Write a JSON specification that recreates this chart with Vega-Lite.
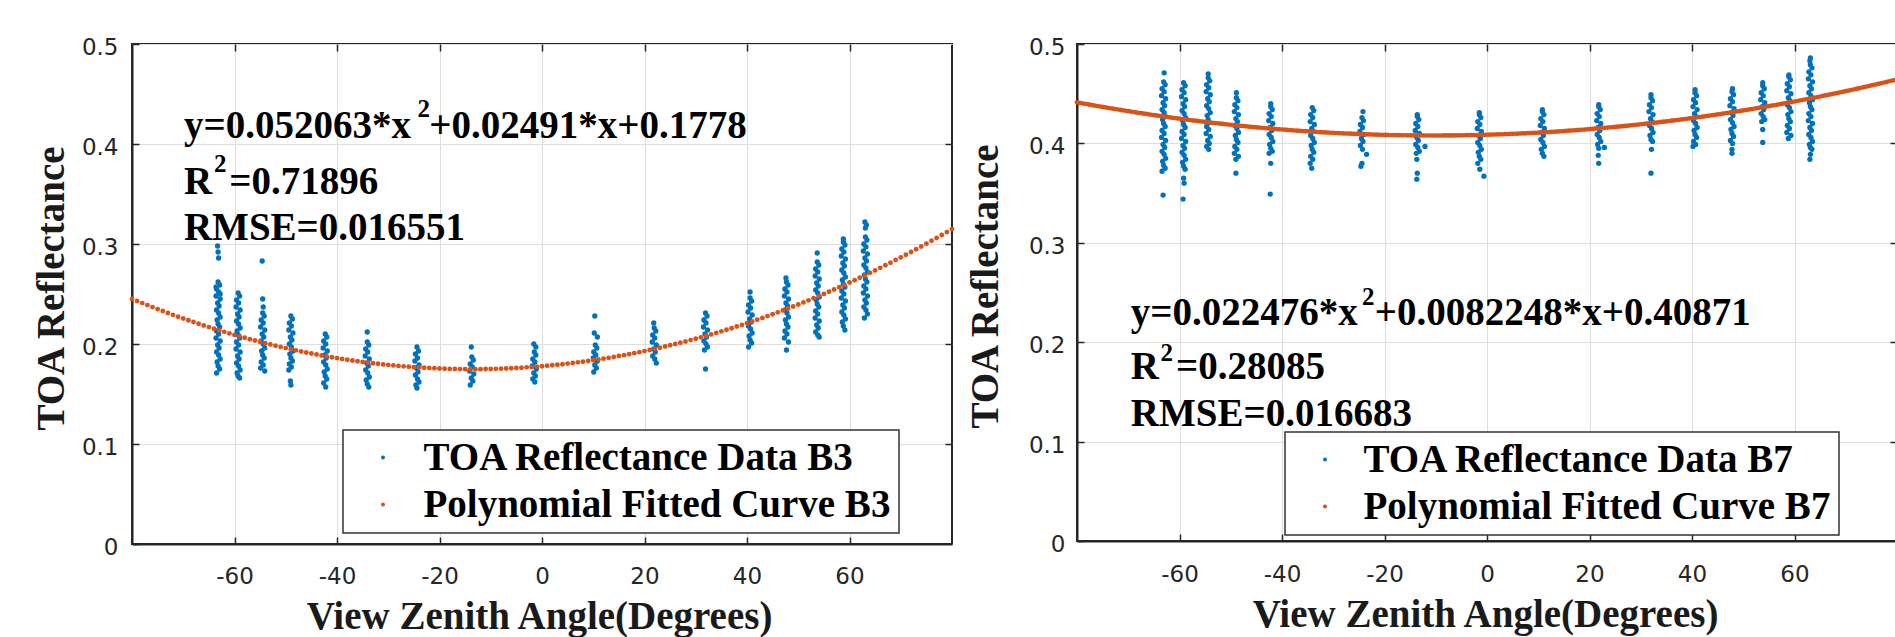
{
"$schema": "https://vega.github.io/schema/vega-lite/v6.json",
"autosize": {"type": "none"},
"padding": {"left": 132, "top": 44, "right": 1763, "bottom": 593},
"background": "white",
"datasets": {
"b3": [
{"a":-63.3,"r":0.298},{"a":-63.2,"r":0.292},{"a":-63.1,"r":0.286},
{"a":-63.2,"r":0.262},{"a":-62.9,"r":0.259},{"a":-63.5,"r":0.255},{"a":-63.1,"r":0.252},{"a":-63.6,"r":0.248},{"a":-62.8,"r":0.245},{"a":-63.3,"r":0.241},{"a":-63.0,"r":0.238},{"a":-63.5,"r":0.234},{"a":-63.1,"r":0.231},{"a":-62.8,"r":0.227},{"a":-63.4,"r":0.224},{"a":-63.2,"r":0.220},{"a":-62.9,"r":0.217},{"a":-63.5,"r":0.213},{"a":-63.1,"r":0.210},{"a":-63.6,"r":0.206},{"a":-62.8,"r":0.203},{"a":-63.3,"r":0.199},{"a":-63.0,"r":0.196},{"a":-63.5,"r":0.192},{"a":-63.1,"r":0.189},{"a":-62.8,"r":0.185},{"a":-63.4,"r":0.182},{"a":-63.2,"r":0.178},{"a":-62.9,"r":0.175},{"a":-63.5,"r":0.171},{"a":-63.6,"r":0.257},{"a":-62.8,"r":0.250},
{"a":-59.3,"r":0.251},{"a":-59.0,"r":0.248},{"a":-59.6,"r":0.244},{"a":-59.2,"r":0.241},{"a":-59.7,"r":0.237},{"a":-58.9,"r":0.234},{"a":-59.4,"r":0.230},{"a":-59.1,"r":0.227},{"a":-59.6,"r":0.223},{"a":-59.2,"r":0.220},{"a":-58.9,"r":0.216},{"a":-59.5,"r":0.213},{"a":-59.3,"r":0.209},{"a":-59.0,"r":0.206},{"a":-59.6,"r":0.202},{"a":-59.2,"r":0.199},{"a":-59.7,"r":0.195},{"a":-58.9,"r":0.192},{"a":-59.4,"r":0.188},{"a":-59.1,"r":0.185},{"a":-59.6,"r":0.181},{"a":-59.2,"r":0.178},{"a":-58.9,"r":0.174},{"a":-59.5,"r":0.171},{"a":-59.3,"r":0.168},{"a":-59.0,"r":0.166},
{"a":-54.6,"r":0.283},{"a":-54.5,"r":0.245},{"a":-54.4,"r":0.237},
{"a":-54.5,"r":0.231},{"a":-54.2,"r":0.228},{"a":-54.8,"r":0.224},{"a":-54.4,"r":0.221},{"a":-54.9,"r":0.217},{"a":-54.1,"r":0.214},{"a":-54.6,"r":0.210},{"a":-54.3,"r":0.207},{"a":-54.8,"r":0.203},{"a":-54.4,"r":0.200},{"a":-54.1,"r":0.196},{"a":-54.7,"r":0.193},{"a":-54.5,"r":0.189},{"a":-54.2,"r":0.186},{"a":-54.8,"r":0.182},{"a":-54.4,"r":0.179},{"a":-54.9,"r":0.176},{"a":-54.1,"r":0.173},
{"a":-49.0,"r":0.228},{"a":-48.7,"r":0.225},{"a":-49.3,"r":0.221},{"a":-48.9,"r":0.218},{"a":-49.4,"r":0.214},{"a":-48.6,"r":0.211},{"a":-49.1,"r":0.207},{"a":-48.8,"r":0.204},{"a":-49.3,"r":0.200},{"a":-48.9,"r":0.197},{"a":-48.6,"r":0.193},{"a":-49.2,"r":0.190},{"a":-49.0,"r":0.186},{"a":-48.7,"r":0.183},{"a":-49.3,"r":0.180},{"a":-48.9,"r":0.177},{"a":-49.4,"r":0.174},{"a":-49.1,"r":0.163},{"a":-49.0,"r":0.159},
{"a":-42.3,"r":0.210},{"a":-42.0,"r":0.207},{"a":-42.6,"r":0.203},{"a":-42.2,"r":0.200},{"a":-42.7,"r":0.196},{"a":-41.9,"r":0.193},{"a":-42.4,"r":0.189},{"a":-42.1,"r":0.186},{"a":-42.6,"r":0.182},{"a":-42.2,"r":0.179},{"a":-41.9,"r":0.175},{"a":-42.5,"r":0.172},{"a":-42.3,"r":0.168},{"a":-42.0,"r":0.165},{"a":-42.6,"r":0.161},{"a":-42.2,"r":0.157},
{"a":-34.1,"r":0.212},
{"a":-34.1,"r":0.202},{"a":-33.8,"r":0.199},{"a":-34.4,"r":0.195},{"a":-34.0,"r":0.192},{"a":-34.5,"r":0.188},{"a":-33.7,"r":0.185},{"a":-34.2,"r":0.181},{"a":-33.9,"r":0.178},{"a":-34.4,"r":0.174},{"a":-34.0,"r":0.171},{"a":-33.7,"r":0.167},{"a":-34.3,"r":0.164},{"a":-34.1,"r":0.160},{"a":-33.8,"r":0.157},
{"a":-24.4,"r":0.197},{"a":-24.1,"r":0.193},{"a":-24.7,"r":0.190},{"a":-24.3,"r":0.186},{"a":-24.8,"r":0.183},{"a":-24.0,"r":0.179},{"a":-24.5,"r":0.176},{"a":-24.2,"r":0.172},{"a":-24.7,"r":0.169},{"a":-24.3,"r":0.165},{"a":-24.0,"r":0.162},{"a":-24.6,"r":0.159},{"a":-24.4,"r":0.156},
{"a":-13.8,"r":0.197},
{"a":-13.7,"r":0.187},{"a":-13.4,"r":0.184},{"a":-14.0,"r":0.180},{"a":-13.6,"r":0.177},{"a":-14.1,"r":0.173},{"a":-13.3,"r":0.170},{"a":-13.8,"r":0.166},{"a":-13.5,"r":0.163},{"a":-14.0,"r":0.159},
{"a":-1.6,"r":0.200},{"a":-1.2,"r":0.197},
{"a":-1.5,"r":0.192},{"a":-1.2,"r":0.189},{"a":-1.8,"r":0.185},{"a":-1.4,"r":0.182},{"a":-1.9,"r":0.178},{"a":-1.1,"r":0.175},{"a":-1.6,"r":0.171},{"a":-1.3,"r":0.168},{"a":-1.8,"r":0.165},{"a":-1.4,"r":0.162},
{"a":10.3,"r":0.228},{"a":10.2,"r":0.211},{"a":10.8,"r":0.207},
{"a":10.4,"r":0.199},{"a":10.7,"r":0.196},{"a":10.1,"r":0.192},{"a":10.5,"r":0.189},{"a":10.0,"r":0.186},{"a":10.8,"r":0.183},{"a":10.3,"r":0.179},{"a":10.6,"r":0.176},{"a":10.1,"r":0.172},
{"a":21.8,"r":0.221},
{"a":21.9,"r":0.216},{"a":22.2,"r":0.213},{"a":21.6,"r":0.209},{"a":22.0,"r":0.206},{"a":21.5,"r":0.202},{"a":22.3,"r":0.199},{"a":21.8,"r":0.195},{"a":22.1,"r":0.192},{"a":21.6,"r":0.188},{"a":22.0,"r":0.185},{"a":22.3,"r":0.181},
{"a":31.9,"r":0.231},{"a":32.2,"r":0.228},{"a":31.6,"r":0.224},{"a":32.0,"r":0.221},{"a":31.5,"r":0.217},{"a":32.3,"r":0.214},{"a":31.8,"r":0.210},{"a":32.1,"r":0.207},{"a":31.6,"r":0.203},{"a":32.0,"r":0.200},{"a":32.3,"r":0.197},{"a":31.7,"r":0.194},{"a":31.9,"r":0.175},
{"a":40.6,"r":0.252},
{"a":40.6,"r":0.246},{"a":40.9,"r":0.243},{"a":40.3,"r":0.239},{"a":40.7,"r":0.236},{"a":40.2,"r":0.232},{"a":41.0,"r":0.229},{"a":40.5,"r":0.225},{"a":40.8,"r":0.222},{"a":40.3,"r":0.218},{"a":40.7,"r":0.215},{"a":41.0,"r":0.211},{"a":40.4,"r":0.208},{"a":40.6,"r":0.204},{"a":40.9,"r":0.201},{"a":40.3,"r":0.197},
{"a":47.6,"r":0.266},
{"a":47.7,"r":0.262},{"a":48.0,"r":0.259},{"a":47.4,"r":0.255},{"a":47.8,"r":0.252},{"a":47.3,"r":0.248},{"a":48.1,"r":0.245},{"a":47.6,"r":0.241},{"a":47.9,"r":0.238},{"a":47.4,"r":0.234},{"a":47.8,"r":0.231},{"a":48.1,"r":0.227},{"a":47.5,"r":0.224},{"a":47.7,"r":0.220},{"a":48.0,"r":0.217},{"a":47.4,"r":0.213},{"a":47.8,"r":0.210},{"a":47.3,"r":0.206},{"a":48.1,"r":0.202},{"a":47.7,"r":0.194},
{"a":53.7,"r":0.291},
{"a":53.7,"r":0.282},{"a":54.0,"r":0.279},{"a":53.4,"r":0.275},{"a":53.8,"r":0.272},{"a":53.3,"r":0.268},{"a":54.1,"r":0.265},{"a":53.6,"r":0.261},{"a":53.9,"r":0.258},{"a":53.4,"r":0.254},{"a":53.8,"r":0.251},{"a":54.1,"r":0.247},{"a":53.5,"r":0.244},{"a":53.7,"r":0.240},{"a":54.0,"r":0.237},{"a":53.4,"r":0.233},{"a":53.8,"r":0.230},{"a":53.3,"r":0.226},{"a":54.1,"r":0.223},{"a":53.6,"r":0.219},{"a":53.9,"r":0.216},{"a":53.4,"r":0.212},{"a":53.8,"r":0.209},{"a":54.1,"r":0.207},
{"a":58.8,"r":0.305},
{"a":58.8,"r":0.302},{"a":59.1,"r":0.299},{"a":58.5,"r":0.295},{"a":58.9,"r":0.292},{"a":58.4,"r":0.288},{"a":59.2,"r":0.285},{"a":58.7,"r":0.281},{"a":59.0,"r":0.278},{"a":58.5,"r":0.274},{"a":58.9,"r":0.271},{"a":59.2,"r":0.267},{"a":58.6,"r":0.264},{"a":58.8,"r":0.260},{"a":59.1,"r":0.257},{"a":58.5,"r":0.253},{"a":58.9,"r":0.250},{"a":58.4,"r":0.246},{"a":59.2,"r":0.243},{"a":58.7,"r":0.239},{"a":59.0,"r":0.236},{"a":58.5,"r":0.232},{"a":58.9,"r":0.229},{"a":59.2,"r":0.225},{"a":58.6,"r":0.222},{"a":58.8,"r":0.218},{"a":59.1,"r":0.214},
{"a":63.0,"r":0.322},{"a":63.3,"r":0.319},{"a":63.1,"r":0.316},
{"a":63.1,"r":0.307},{"a":63.4,"r":0.304},{"a":62.8,"r":0.300},{"a":63.2,"r":0.297},{"a":62.7,"r":0.293},{"a":63.5,"r":0.290},{"a":63.0,"r":0.286},{"a":63.3,"r":0.283},{"a":62.8,"r":0.279},{"a":63.2,"r":0.276},{"a":63.5,"r":0.272},{"a":62.9,"r":0.269},{"a":63.1,"r":0.265},{"a":63.4,"r":0.262},{"a":62.8,"r":0.258},{"a":63.2,"r":0.255},{"a":62.7,"r":0.251},{"a":63.5,"r":0.248},{"a":63.0,"r":0.244},{"a":63.3,"r":0.241},{"a":62.8,"r":0.237},{"a":63.2,"r":0.234},{"a":63.5,"r":0.230},{"a":62.9,"r":0.226}
],
"c3": [
{"a":-80,"r":0.24509},{"a":-79,"r":0.24299},{"a":-78,"r":0.24092},{"a":-77,"r":0.23888},{"a":-76,"r":0.23688},{"a":-75,"r":0.2349},{"a":-74,"r":0.23296},{"a":-73,"r":0.23105},{"a":-72,"r":0.22917},{"a":-71,"r":0.22732},{"a":-70,"r":0.22551},{"a":-69,"r":0.22372},{"a":-68,"r":0.22197},{"a":-67,"r":0.22025},{"a":-66,"r":0.21856},{"a":-65,"r":0.21691},{"a":-64,"r":0.21529},{"a":-63,"r":0.21369},{"a":-62,"r":0.21213},{"a":-61,"r":0.21061},{"a":-60,"r":0.20911},{"a":-59,"r":0.20765},{"a":-58,"r":0.20621},{"a":-57,"r":0.20481},{"a":-56,"r":0.20345},{"a":-55,"r":0.20211},{"a":-54,"r":0.2008},{"a":-53,"r":0.19953},{"a":-52,"r":0.19829},{"a":-51,"r":0.19708},{"a":-50,"r":0.19591},{"a":-49,"r":0.19476},{"a":-48,"r":0.19365},{"a":-47,"r":0.19257},{"a":-46,"r":0.19152},{"a":-45,"r":0.1905},{"a":-44,"r":0.18952},{"a":-43,"r":0.18857},{"a":-42,"r":0.18765},{"a":-41,"r":0.18676},{"a":-40,"r":0.1859},{"a":-39,"r":0.18507},{"a":-38,"r":0.18428},{"a":-37,"r":0.18352},{"a":-36,"r":0.18279},{"a":-35,"r":0.18209},{"a":-34,"r":0.18143},{"a":-33,"r":0.18079},{"a":-32,"r":0.18019},{"a":-31,"r":0.17962},{"a":-30,"r":0.17908},{"a":-29,"r":0.17858},{"a":-28,"r":0.1781},{"a":-27,"r":0.17766},{"a":-26,"r":0.17725},{"a":-25,"r":0.17687},{"a":-24,"r":0.17653},{"a":-23,"r":0.17621},{"a":-22,"r":0.17593},{"a":-21,"r":0.17568},{"a":-20,"r":0.17546},{"a":-19,"r":0.17528},{"a":-18,"r":0.17512},{"a":-17,"r":0.175},{"a":-16,"r":0.17491},{"a":-15,"r":0.17485},{"a":-14,"r":0.17482},{"a":-13,"r":0.17483},{"a":-12,"r":0.17486},{"a":-11,"r":0.17493},{"a":-10,"r":0.17503},{"a":-9,"r":0.17517},{"a":-8,"r":0.17533},{"a":-7,"r":0.17553},{"a":-6,"r":0.17576},{"a":-5,"r":0.17602},{"a":-4,"r":0.17631},{"a":-3,"r":0.17663},{"a":-2,"r":0.17699},{"a":-1,"r":0.17738},{"a":0,"r":0.1778},
{"a":1,"r":0.17825},{"a":2,"r":0.17874},{"a":3,"r":0.17925},{"a":4,"r":0.1798},{"a":5,"r":0.18038},{"a":6,"r":0.18099},{"a":7,"r":0.18164},{"a":8,"r":0.18231},{"a":9,"r":0.18302},{"a":10,"r":0.18376},{"a":11,"r":0.18453},{"a":12,"r":0.18533},{"a":13,"r":0.18617},{"a":14,"r":0.18704},{"a":15,"r":0.18794},{"a":16,"r":0.18887},{"a":17,"r":0.18983},{"a":18,"r":0.19083},{"a":19,"r":0.19185},{"a":20,"r":0.19291},{"a":21,"r":0.194},{"a":22,"r":0.19513},{"a":23,"r":0.19628},{"a":24,"r":0.19747},{"a":25,"r":0.19869},{"a":26,"r":0.19994},{"a":27,"r":0.20122},{"a":28,"r":0.20253},{"a":29,"r":0.20388},{"a":30,"r":0.20526},{"a":31,"r":0.20667},{"a":32,"r":0.20811},{"a":33,"r":0.20959},{"a":34,"r":0.21109},{"a":35,"r":0.21263},{"a":36,"r":0.2142},{"a":37,"r":0.2158},{"a":38,"r":0.21744},{"a":39,"r":0.2191},{"a":40,"r":0.2208},{"a":41,"r":0.22253},{"a":42,"r":0.22429},{"a":43,"r":0.22608},{"a":44,"r":0.22791},{"a":45,"r":0.22977},{"a":46,"r":0.23166},{"a":47,"r":0.23358},{"a":48,"r":0.23553},{"a":49,"r":0.23752},{"a":50,"r":0.23953},{"a":51,"r":0.24158},{"a":52,"r":0.24366},{"a":53,"r":0.24578},{"a":54,"r":0.24792},{"a":55,"r":0.2501},{"a":56,"r":0.25231},{"a":57,"r":0.25455},{"a":58,"r":0.25682},{"a":59,"r":0.25912},{"a":60,"r":0.26146},{"a":61,"r":0.26383},{"a":62,"r":0.26623},{"a":63,"r":0.26866},{"a":64,"r":0.27113},{"a":65,"r":0.27362},{"a":66,"r":0.27615},{"a":67,"r":0.27871},{"a":68,"r":0.2813},{"a":69,"r":0.28393},{"a":70,"r":0.28658},{"a":71,"r":0.28927},{"a":72,"r":0.29199},{"a":73,"r":0.29474},{"a":74,"r":0.29752},{"a":75,"r":0.30034},{"a":76,"r":0.30319},{"a":77,"r":0.30607},{"a":78,"r":0.30898},{"a":79,"r":0.31192},{"a":80,"r":0.3149}
],
"b7": [
{"a":-63.0,"r":0.471},{"a":-63.2,"r":0.348},
{"a":-63.1,"r":0.462},{"a":-62.8,"r":0.459},{"a":-63.4,"r":0.455},{"a":-63.0,"r":0.452},{"a":-63.5,"r":0.448},{"a":-62.7,"r":0.445},{"a":-63.2,"r":0.441},{"a":-62.9,"r":0.438},{"a":-63.4,"r":0.434},{"a":-63.0,"r":0.431},{"a":-62.7,"r":0.427},{"a":-63.3,"r":0.424},{"a":-63.1,"r":0.420},{"a":-62.8,"r":0.417},{"a":-63.4,"r":0.413},{"a":-63.0,"r":0.410},{"a":-63.5,"r":0.406},{"a":-62.7,"r":0.403},{"a":-63.2,"r":0.399},{"a":-62.9,"r":0.396},{"a":-63.4,"r":0.392},{"a":-63.0,"r":0.389},{"a":-62.7,"r":0.385},{"a":-63.3,"r":0.382},{"a":-63.1,"r":0.378},{"a":-62.8,"r":0.375},{"a":-63.4,"r":0.372},
{"a":-59.2,"r":0.461},{"a":-58.9,"r":0.458},{"a":-59.5,"r":0.454},{"a":-59.1,"r":0.451},{"a":-59.6,"r":0.447},{"a":-58.8,"r":0.444},{"a":-59.3,"r":0.440},{"a":-59.0,"r":0.437},{"a":-59.5,"r":0.433},{"a":-59.1,"r":0.430},{"a":-58.8,"r":0.426},{"a":-59.4,"r":0.423},{"a":-59.2,"r":0.419},{"a":-58.9,"r":0.416},{"a":-59.5,"r":0.412},{"a":-59.1,"r":0.409},{"a":-59.6,"r":0.405},{"a":-58.8,"r":0.402},{"a":-59.3,"r":0.398},{"a":-59.0,"r":0.395},{"a":-59.5,"r":0.391},{"a":-59.1,"r":0.388},{"a":-58.8,"r":0.384},{"a":-59.4,"r":0.381},{"a":-59.2,"r":0.377},{"a":-58.9,"r":0.374},{"a":-59.2,"r":0.365},{"a":-59.1,"r":0.360},{"a":-59.3,"r":0.344},
{"a":-54.4,"r":0.470},
{"a":-54.4,"r":0.466},{"a":-54.1,"r":0.463},{"a":-54.7,"r":0.459},{"a":-54.3,"r":0.456},{"a":-54.8,"r":0.452},{"a":-54.0,"r":0.449},{"a":-54.5,"r":0.445},{"a":-54.2,"r":0.442},{"a":-54.7,"r":0.438},{"a":-54.3,"r":0.435},{"a":-54.0,"r":0.431},{"a":-54.6,"r":0.428},{"a":-54.4,"r":0.424},{"a":-54.1,"r":0.421},{"a":-54.7,"r":0.417},{"a":-54.3,"r":0.414},{"a":-54.8,"r":0.410},{"a":-54.0,"r":0.407},{"a":-54.5,"r":0.403},{"a":-54.2,"r":0.400},{"a":-54.7,"r":0.397},{"a":-54.3,"r":0.394},
{"a":-48.9,"r":0.451},{"a":-49.0,"r":0.370},
{"a":-48.9,"r":0.446},{"a":-48.6,"r":0.443},{"a":-49.2,"r":0.439},{"a":-48.8,"r":0.436},{"a":-49.3,"r":0.432},{"a":-48.5,"r":0.429},{"a":-49.0,"r":0.425},{"a":-48.7,"r":0.422},{"a":-49.2,"r":0.418},{"a":-48.8,"r":0.415},{"a":-48.5,"r":0.411},{"a":-49.1,"r":0.408},{"a":-48.9,"r":0.404},{"a":-48.6,"r":0.401},{"a":-49.2,"r":0.397},{"a":-48.8,"r":0.394},{"a":-49.3,"r":0.390},{"a":-48.5,"r":0.387},{"a":-49.0,"r":0.384},
{"a":-42.2,"r":0.440},{"a":-42.2,"r":0.380},{"a":-42.3,"r":0.349},
{"a":-42.2,"r":0.437},{"a":-41.9,"r":0.434},{"a":-42.5,"r":0.430},{"a":-42.1,"r":0.427},{"a":-42.6,"r":0.423},{"a":-41.8,"r":0.420},{"a":-42.3,"r":0.416},{"a":-42.0,"r":0.413},{"a":-42.5,"r":0.409},{"a":-42.1,"r":0.406},{"a":-41.8,"r":0.402},{"a":-42.4,"r":0.399},{"a":-42.2,"r":0.395},{"a":-41.9,"r":0.392},{"a":-42.5,"r":0.390},
{"a":-34.1,"r":0.436},{"a":-33.8,"r":0.433},{"a":-34.4,"r":0.429},{"a":-34.0,"r":0.426},{"a":-34.5,"r":0.422},{"a":-33.7,"r":0.419},{"a":-34.2,"r":0.415},{"a":-33.9,"r":0.412},{"a":-34.4,"r":0.408},{"a":-34.0,"r":0.405},{"a":-33.7,"r":0.401},{"a":-34.3,"r":0.398},{"a":-34.1,"r":0.394},{"a":-33.8,"r":0.391},{"a":-34.4,"r":0.387},{"a":-34.0,"r":0.384},{"a":-34.5,"r":0.380},{"a":-34.2,"r":0.375},
{"a":-24.2,"r":0.432},
{"a":-24.4,"r":0.426},{"a":-24.1,"r":0.423},{"a":-24.7,"r":0.419},{"a":-24.3,"r":0.416},{"a":-24.8,"r":0.412},{"a":-24.0,"r":0.409},{"a":-24.5,"r":0.405},{"a":-24.2,"r":0.402},{"a":-24.7,"r":0.398},{"a":-24.3,"r":0.394},{"a":-23.5,"r":0.389},{"a":-24.4,"r":0.380},{"a":-24.6,"r":0.377},
{"a":-13.6,"r":0.429},
{"a":-13.6,"r":0.427},{"a":-13.3,"r":0.424},{"a":-13.9,"r":0.420},{"a":-13.5,"r":0.417},{"a":-14.0,"r":0.413},{"a":-13.2,"r":0.410},{"a":-13.7,"r":0.406},{"a":-13.4,"r":0.403},{"a":-13.9,"r":0.399},{"a":-13.5,"r":0.396},{"a":-13.2,"r":0.392},{"a":-13.8,"r":0.390},{"a":-12.1,"r":0.397},{"a":-13.7,"r":0.384},{"a":-13.6,"r":0.370},{"a":-13.7,"r":0.364},
{"a":-1.5,"r":0.431},
{"a":-1.5,"r":0.429},{"a":-1.2,"r":0.426},{"a":-1.8,"r":0.422},{"a":-1.4,"r":0.419},{"a":-1.9,"r":0.415},{"a":-1.1,"r":0.412},{"a":-1.6,"r":0.408},{"a":-1.3,"r":0.405},{"a":-1.8,"r":0.401},{"a":-1.4,"r":0.398},{"a":-1.1,"r":0.394},{"a":-1.7,"r":0.391},{"a":-1.5,"r":0.387},{"a":-1.2,"r":0.384},{"a":-1.8,"r":0.380},{"a":-1.4,"r":0.374},{"a":-0.6,"r":0.367},
{"a":10.8,"r":0.434},
{"a":10.8,"r":0.432},{"a":11.1,"r":0.429},{"a":10.5,"r":0.425},{"a":10.9,"r":0.422},{"a":10.4,"r":0.418},{"a":11.2,"r":0.415},{"a":10.7,"r":0.411},{"a":11.0,"r":0.408},{"a":10.5,"r":0.404},{"a":10.9,"r":0.401},{"a":11.2,"r":0.397},{"a":10.6,"r":0.394},{"a":10.8,"r":0.390},{"a":11.1,"r":0.387},
{"a":21.8,"r":0.439},
{"a":21.8,"r":0.437},{"a":22.1,"r":0.434},{"a":21.5,"r":0.430},{"a":21.9,"r":0.427},{"a":21.4,"r":0.423},{"a":22.2,"r":0.420},{"a":21.7,"r":0.416},{"a":22.0,"r":0.413},{"a":21.5,"r":0.409},{"a":21.9,"r":0.406},{"a":22.2,"r":0.402},{"a":21.6,"r":0.399},{"a":21.8,"r":0.395},{"a":22.9,"r":0.396},{"a":21.7,"r":0.388},{"a":21.8,"r":0.380},
{"a":32.0,"r":0.449},
{"a":32.0,"r":0.446},{"a":32.3,"r":0.443},{"a":31.7,"r":0.439},{"a":32.1,"r":0.436},{"a":31.6,"r":0.432},{"a":32.4,"r":0.429},{"a":31.9,"r":0.425},{"a":32.2,"r":0.422},{"a":31.7,"r":0.418},{"a":32.1,"r":0.415},{"a":32.4,"r":0.411},{"a":31.8,"r":0.408},{"a":32.0,"r":0.404},{"a":32.3,"r":0.402},{"a":32.1,"r":0.394},{"a":32.0,"r":0.370},
{"a":40.6,"r":0.454},
{"a":40.6,"r":0.451},{"a":40.9,"r":0.448},{"a":40.3,"r":0.444},{"a":40.7,"r":0.441},{"a":40.2,"r":0.437},{"a":41.0,"r":0.434},{"a":40.5,"r":0.430},{"a":40.8,"r":0.427},{"a":40.3,"r":0.423},{"a":40.7,"r":0.420},{"a":41.0,"r":0.416},{"a":40.4,"r":0.413},{"a":40.6,"r":0.409},{"a":40.9,"r":0.406},{"a":40.3,"r":0.402},{"a":40.7,"r":0.399},{"a":40.2,"r":0.397},
{"a":47.9,"r":0.455},
{"a":47.8,"r":0.452},{"a":48.1,"r":0.449},{"a":47.5,"r":0.445},{"a":47.9,"r":0.442},{"a":47.4,"r":0.438},{"a":48.2,"r":0.435},{"a":47.7,"r":0.431},{"a":48.0,"r":0.428},{"a":47.5,"r":0.424},{"a":47.9,"r":0.421},{"a":48.2,"r":0.417},{"a":47.6,"r":0.414},{"a":47.8,"r":0.410},{"a":48.1,"r":0.407},{"a":47.5,"r":0.403},{"a":47.9,"r":0.400},{"a":47.8,"r":0.394},{"a":47.8,"r":0.390},
{"a":53.8,"r":0.461},
{"a":53.8,"r":0.458},{"a":54.1,"r":0.455},{"a":53.5,"r":0.451},{"a":53.9,"r":0.448},{"a":53.4,"r":0.444},{"a":54.2,"r":0.441},{"a":53.7,"r":0.437},{"a":54.0,"r":0.434},{"a":53.5,"r":0.430},{"a":53.9,"r":0.427},{"a":54.2,"r":0.424},{"a":53.6,"r":0.422},{"a":53.8,"r":0.414},{"a":53.8,"r":0.401},
{"a":58.9,"r":0.469},
{"a":58.9,"r":0.467},{"a":59.2,"r":0.464},{"a":58.6,"r":0.460},{"a":59.0,"r":0.457},{"a":58.5,"r":0.453},{"a":59.3,"r":0.450},{"a":58.8,"r":0.446},{"a":59.1,"r":0.443},{"a":58.6,"r":0.439},{"a":59.0,"r":0.436},{"a":59.3,"r":0.432},{"a":58.7,"r":0.429},{"a":58.9,"r":0.425},{"a":59.2,"r":0.422},{"a":58.6,"r":0.418},{"a":59.0,"r":0.415},{"a":58.5,"r":0.411},{"a":59.3,"r":0.408},{"a":58.8,"r":0.405},
{"a":63.1,"r":0.486},{"a":63.0,"r":0.483},
{"a":63.1,"r":0.479},{"a":63.4,"r":0.476},{"a":62.8,"r":0.472},{"a":63.2,"r":0.469},{"a":62.7,"r":0.465},{"a":63.5,"r":0.462},{"a":63.0,"r":0.458},{"a":63.3,"r":0.455},{"a":62.8,"r":0.451},{"a":63.2,"r":0.448},{"a":63.5,"r":0.444},{"a":62.9,"r":0.441},{"a":63.1,"r":0.437},{"a":63.4,"r":0.434},{"a":62.8,"r":0.430},{"a":63.2,"r":0.427},{"a":62.7,"r":0.423},{"a":63.5,"r":0.420},{"a":63.0,"r":0.416},{"a":63.3,"r":0.413},{"a":62.8,"r":0.409},{"a":63.2,"r":0.406},{"a":63.5,"r":0.402},{"a":62.9,"r":0.399},{"a":63.1,"r":0.396},{"a":63.4,"r":0.394},{"a":63.1,"r":0.389},{"a":63.0,"r":0.384}
],
"c7": [
{"a":-80,"r":0.44131},{"a":-79.5,"r":0.44083},{"a":-79,"r":0.44035},{"a":-78.5,"r":0.43989},{"a":-78,"r":0.43942},{"a":-77.5,"r":0.43895},{"a":-77,"r":0.43849},{"a":-76.5,"r":0.43803},{"a":-76,"r":0.43758},{"a":-75.5,"r":0.43713},{"a":-75,"r":0.43668},{"a":-74.5,"r":0.43624},{"a":-74,"r":0.4358},{"a":-73.5,"r":0.43536},{"a":-73,"r":0.43493},{"a":-72.5,"r":0.4345},{"a":-72,"r":0.43408},{"a":-71.5,"r":0.43365},{"a":-71,"r":0.43323},{"a":-70.5,"r":0.43282},{"a":-70,"r":0.43241},{"a":-69.5,"r":0.432},{"a":-69,"r":0.43159},{"a":-68.5,"r":0.43119},{"a":-68,"r":0.43079},{"a":-67.5,"r":0.43039},{"a":-67,"r":0.43},{"a":-66.5,"r":0.42961},{"a":-66,"r":0.42923},{"a":-65.5,"r":0.42885},{"a":-65,"r":0.42847},{"a":-64.5,"r":0.4281},{"a":-64,"r":0.42773},{"a":-63.5,"r":0.42736},{"a":-63,"r":0.427},{"a":-62.5,"r":0.42664},{"a":-62,"r":0.42628},{"a":-61.5,"r":0.42592},{"a":-61,"r":0.42557},{"a":-60.5,"r":0.42522},{"a":-60,"r":0.42488},{"a":-59.5,"r":0.42454},{"a":-59,"r":0.42421},{"a":-58.5,"r":0.42388},{"a":-58,"r":0.42355},{"a":-57.5,"r":0.42322},{"a":-57,"r":0.4229},{"a":-56.5,"r":0.42258},{"a":-56,"r":0.42226},{"a":-55.5,"r":0.42195},{"a":-55,"r":0.42164},{"a":-54.5,"r":0.42133},{"a":-54,"r":0.42103},{"a":-53.5,"r":0.42073},{"a":-53,"r":0.42044},{"a":-52.5,"r":0.42015},{"a":-52,"r":0.41986},{"a":-51.5,"r":0.41957},{"a":-51,"r":0.41929},{"a":-50.5,"r":0.41901},{"a":-50,"r":0.41874},{"a":-49.5,"r":0.41847},{"a":-49,"r":0.4182},{"a":-48.5,"r":0.41794},{"a":-48,"r":0.41768},{"a":-47.5,"r":0.41742},{"a":-47,"r":0.41717},{"a":-46.5,"r":0.41692},{"a":-46,"r":0.41667},{"a":-45.5,"r":0.41643},{"a":-45,"r":0.41619},{"a":-44.5,"r":0.41595},{"a":-44,"r":0.41572},{"a":-43.5,"r":0.41549},{"a":-43,"r":0.41526},{"a":-42.5,"r":0.41504},{"a":-42,"r":0.41482},{"a":-41.5,"r":0.4146},{"a":-41,"r":0.41439},{"a":-40.5,"r":0.41418},{"a":-40,"r":0.41398},{"a":-39.5,"r":0.41378},{"a":-39,"r":0.41358},{"a":-38.5,"r":0.41338},{"a":-38,"r":0.41319},{"a":-37.5,"r":0.413},{"a":-37,"r":0.41282},{"a":-36.5,"r":0.41264},{"a":-36,"r":0.41246},{"a":-35.5,"r":0.41228},{"a":-35,"r":0.41211},{"a":-34.5,"r":0.41194},{"a":-34,"r":0.41178},{"a":-33.5,"r":0.41162},{"a":-33,"r":0.41146},{"a":-32.5,"r":0.41131},{"a":-32,"r":0.41116},{"a":-31.5,"r":0.41101},{"a":-31,"r":0.41087},{"a":-30.5,"r":0.41073},{"a":-30,"r":0.41059},{"a":-29.5,"r":0.41046},{"a":-29,"r":0.41033},{"a":-28.5,"r":0.4102},{"a":-28,"r":0.41008},{"a":-27.5,"r":0.40996},{"a":-27,"r":0.40985},{"a":-26.5,"r":0.40974},{"a":-26,"r":0.40963},{"a":-25.5,"r":0.40952},{"a":-25,"r":0.40942},{"a":-24.5,"r":0.40932},{"a":-24,"r":0.40922},{"a":-23.5,"r":0.40913},{"a":-23,"r":0.40904},{"a":-22.5,"r":0.40896},{"a":-22,"r":0.40888},{"a":-21.5,"r":0.4088},{"a":-21,"r":0.40873},{"a":-20.5,"r":0.40866},{"a":-20,"r":0.40859},{"a":-19.5,"r":0.40852},{"a":-19,"r":0.40846},{"a":-18.5,"r":0.4084},{"a":-18,"r":0.40835},{"a":-17.5,"r":0.4083},{"a":-17,"r":0.40825},{"a":-16.5,"r":0.40821},{"a":-16,"r":0.40817},{"a":-15.5,"r":0.40813},{"a":-15,"r":0.4081},{"a":-14.5,"r":0.40807},{"a":-14,"r":0.40804},{"a":-13.5,"r":0.40802},{"a":-13,"r":0.408},{"a":-12.5,"r":0.40798},{"a":-12,"r":0.40797},{"a":-11.5,"r":0.40796},{"a":-11,"r":0.40796},{"a":-10.5,"r":0.40796},{"a":-10,"r":0.40796},{"a":-9.5,"r":0.40796},{"a":-9,"r":0.40797},{"a":-8.5,"r":0.40798},{"a":-8,"r":0.408},{"a":-7.5,"r":0.40802},{"a":-7,"r":0.40804},{"a":-6.5,"r":0.40806},{"a":-6,"r":0.40809},{"a":-5.5,"r":0.40812},{"a":-5,"r":0.40816},{"a":-4.5,"r":0.4082},{"a":-4,"r":0.40824},{"a":-3.5,"r":0.40829},{"a":-3,"r":0.40834},{"a":-2.5,"r":0.40839},{"a":-2,"r":0.40845},{"a":-1.5,"r":0.40851},{"a":-1,"r":0.40857},{"a":-0.5,"r":0.40864},{"a":0,"r":0.40871},
{"a":0.5,"r":0.40878},{"a":1,"r":0.40886},{"a":1.5,"r":0.40894},{"a":2,"r":0.40903},{"a":2.5,"r":0.40911},{"a":3,"r":0.4092},{"a":3.5,"r":0.4093},{"a":4,"r":0.4094},{"a":4.5,"r":0.4095},{"a":5,"r":0.4096},{"a":5.5,"r":0.40971},{"a":6,"r":0.40982},{"a":6.5,"r":0.40994},{"a":7,"r":0.41006},{"a":7.5,"r":0.41018},{"a":8,"r":0.4103},{"a":8.5,"r":0.41043},{"a":9,"r":0.41056},{"a":9.5,"r":0.4107},{"a":10,"r":0.41084},{"a":10.5,"r":0.41098},{"a":11,"r":0.41113},{"a":11.5,"r":0.41128},{"a":12,"r":0.41143},{"a":12.5,"r":0.41159},{"a":13,"r":0.41175},{"a":13.5,"r":0.41191},{"a":14,"r":0.41208},{"a":14.5,"r":0.41225},{"a":15,"r":0.41242},{"a":15.5,"r":0.4126},{"a":16,"r":0.41278},{"a":16.5,"r":0.41296},{"a":17,"r":0.41315},{"a":17.5,"r":0.41334},{"a":18,"r":0.41354},{"a":18.5,"r":0.41374},{"a":19,"r":0.41394},{"a":19.5,"r":0.41414},{"a":20,"r":0.41435},{"a":20.5,"r":0.41456},{"a":21,"r":0.41478},{"a":21.5,"r":0.415},{"a":22,"r":0.41522},{"a":22.5,"r":0.41544},{"a":23,"r":0.41567},{"a":23.5,"r":0.4159},{"a":24,"r":0.41614},{"a":24.5,"r":0.41638},{"a":25,"r":0.41662},{"a":25.5,"r":0.41687},{"a":26,"r":0.41712},{"a":26.5,"r":0.41737},{"a":27,"r":0.41762},{"a":27.5,"r":0.41788},{"a":28,"r":0.41815},{"a":28.5,"r":0.41841},{"a":29,"r":0.41868},{"a":29.5,"r":0.41896},{"a":30,"r":0.41924},{"a":30.5,"r":0.41952},{"a":31,"r":0.4198},{"a":31.5,"r":0.42009},{"a":32,"r":0.42038},{"a":32.5,"r":0.42067},{"a":33,"r":0.42097},{"a":33.5,"r":0.42127},{"a":34,"r":0.42158},{"a":34.5,"r":0.42189},{"a":35,"r":0.4222},{"a":35.5,"r":0.42251},{"a":36,"r":0.42283},{"a":36.5,"r":0.42315},{"a":37,"r":0.42348},{"a":37.5,"r":0.42381},{"a":38,"r":0.42414},{"a":38.5,"r":0.42447},{"a":39,"r":0.42481},{"a":39.5,"r":0.42515},{"a":40,"r":0.4255},{"a":40.5,"r":0.42585},{"a":41,"r":0.4262},{"a":41.5,"r":0.42656},{"a":42,"r":0.42692},{"a":42.5,"r":0.42728},{"a":43,"r":0.42765},{"a":43.5,"r":0.42802},{"a":44,"r":0.42839},{"a":44.5,"r":0.42877},{"a":45,"r":0.42915},{"a":45.5,"r":0.42953},{"a":46,"r":0.42992},{"a":46.5,"r":0.43031},{"a":47,"r":0.43071},{"a":47.5,"r":0.43111},{"a":48,"r":0.43151},{"a":48.5,"r":0.43191},{"a":49,"r":0.43232},{"a":49.5,"r":0.43273},{"a":50,"r":0.43315},{"a":50.5,"r":0.43357},{"a":51,"r":0.43399},{"a":51.5,"r":0.43441},{"a":52,"r":0.43484},{"a":52.5,"r":0.43527},{"a":53,"r":0.43571},{"a":53.5,"r":0.43615},{"a":54,"r":0.43659},{"a":54.5,"r":0.43704},{"a":55,"r":0.43749},{"a":55.5,"r":0.43794},{"a":56,"r":0.43839},{"a":56.5,"r":0.43885},{"a":57,"r":0.43932},{"a":57.5,"r":0.43978},{"a":58,"r":0.44025},{"a":58.5,"r":0.44072},{"a":59,"r":0.4412},{"a":59.5,"r":0.44168},{"a":60,"r":0.44217},{"a":60.5,"r":0.44266},{"a":61,"r":0.44315},{"a":61.5,"r":0.44364},{"a":62,"r":0.44414},{"a":62.5,"r":0.44464},{"a":63,"r":0.44515},{"a":63.5,"r":0.44565},{"a":64,"r":0.44616},{"a":64.5,"r":0.44668},{"a":65,"r":0.4472},{"a":65.5,"r":0.44772},{"a":66,"r":0.44825},{"a":66.5,"r":0.44878},{"a":67,"r":0.44931},{"a":67.5,"r":0.44984},{"a":68,"r":0.45038},{"a":68.5,"r":0.45092},{"a":69,"r":0.45147},{"a":69.5,"r":0.45202},{"a":70,"r":0.45257},{"a":70.5,"r":0.45313},{"a":71,"r":0.45369},{"a":71.5,"r":0.45425},{"a":72,"r":0.45482},{"a":72.5,"r":0.45539},{"a":73,"r":0.45596},{"a":73.5,"r":0.45654},{"a":74,"r":0.45712},{"a":74.5,"r":0.4577},{"a":75,"r":0.45829},{"a":75.5,"r":0.45888},{"a":76,"r":0.45947},{"a":76.5,"r":0.46007},{"a":77,"r":0.46067},{"a":77.5,"r":0.46128},{"a":78,"r":0.46189},{"a":78.5,"r":0.4625},{"a":79,"r":0.46311},{"a":79.5,"r":0.46373},{"a":80,"r":0.46435}
]
},
"spacing": 125,
"bounds": "flush",
"resolve": {"scale": {"color": "independent"}, "legend": {"color": "independent"}},
"hconcat": [
{
"width": 820,
"height": 500,
"resolve": {"axis": {"x": "independent", "y": "independent"}},
"layer": [
{
"data": {"name": "b3"},
"mark": {"type": "point", "filled": true, "size": 28, "opacity": 1, "strokeWidth": 0},
"encoding": {
"x": {"field": "a", "type": "quantitative", "scale": {"domain": [-80, 80], "nice": false, "zero": false},
"axis": {"orient": "bottom", "values": [-60, -40, -20, 0, 20, 40, 60], "labelExpr": "'' + datum.value", "grid": true, "gridColor": "#dedede", "gridWidth": 1, "domain": true, "domainColor": "#262626", "domainWidth": 2, "ticks": true, "tickSize": -7, "tickColor": "#262626", "tickWidth": 1.5, "labelFont": "DejaVu Sans", "labelFontSize": 23, "labelColor": "#262626", "labelBaseline": "alphabetic", "labelPadding": 46, "labelFlush": false, "labelOverlap": false, "title": "View Zenith Angle(Degrees)", "titleFont": "Liberation Serif", "titleFontSize": 39, "titleFontWeight": "bold", "titleColor": "#1a1a1a", "titleX": 407, "titleY": 84, "titleAlign": "center", "titleBaseline": "alphabetic", "titleAngle": 0}},
"y": {"field": "r", "type": "quantitative", "scale": {"domain": [0, 0.5], "nice": false, "zero": false},
"axis": {"orient": "left", "values": [0, 0.1, 0.2, 0.3, 0.4, 0.5], "format": ".1~f", "grid": true, "gridColor": "#dedede", "gridWidth": 1, "domain": true, "domainColor": "#262626", "domainWidth": 2, "ticks": true, "tickSize": -7, "tickColor": "#262626", "tickWidth": 1.5, "labelFont": "DejaVu Sans", "labelFontSize": 23, "labelColor": "#262626", "labelPadding": 21, "labelAlign": "right", "labelBaseline": "middle", "labelOffset": 3.5, "labelFlush": false, "labelOverlap": false, "title": "TOA Reflectance", "titleFont": "Liberation Serif", "titleFontSize": 39, "titleFontWeight": "bold", "titleColor": "#1a1a1a", "titleAngle": -90, "titleX": -69, "titleY": 244, "titleAlign": "center", "titleBaseline": "alphabetic"}},
"color": {"datum": "TOA Reflectance Data B3", "type": "nominal",
"scale": {"domain": ["TOA Reflectance Data B3", "\u00a0Polynomial Fitted Curve B3"], "range": ["#0072BD", "#D95319"]},
"legend": {"orient": "none", "legendX": 211, "legendY": 386, "title": null, "direction": "vertical", "fillColor": "white", "strokeColor": "#333333", "padding": 8, "symbolType": "circle", "symbolSize": 16, "symbolOffset": 12.5, "labelOffset": 21, "labelFont": "Liberation Serif", "labelFontSize": 39, "labelFontWeight": "bold", "labelColor": "black", "labelLimit": 1000, "rowPadding": 7, "symbolStrokeWidth": 0}}
}
},
{
"data": {"name": "c3"},
"mark": {"type": "point", "filled": true, "size": 24, "opacity": 1, "strokeWidth": 0},
"encoding": {
"x": {"field": "a", "type": "quantitative", "axis": {"orient": "top", "values": [-60, -40, -20, 0, 20, 40, 60], "grid": false, "domain": false, "labels": false, "ticks": true, "tickSize": -7, "tickColor": "#262626", "tickWidth": 1.5, "title": null}},
"y": {"field": "r", "type": "quantitative", "axis": {"orient": "right", "values": [0.1, 0.2, 0.3, 0.4], "grid": false, "domain": false, "labels": false, "ticks": true, "tickSize": -7, "tickColor": "#262626", "tickWidth": 1.5, "title": null}},
"color": {"datum": "\u00a0Polynomial Fitted Curve B3", "type": "nominal"}
}
},
{
"data": {"values": [{}]},
"mark": {"type": "text", "text": "y=0.052063*x", "align": "left", "baseline": "alphabetic", "font": "Liberation Serif", "fontWeight": "bold", "fontSize": 39, "color": "black"},
"encoding": {"x": {"datum": -69.87, "type": "quantitative", "axis": null}, "y": {"datum": 0.4057, "type": "quantitative", "axis": null}}
},
{
"data": {"values": [{}]},
"mark": {"type": "text", "text": "2", "align": "left", "baseline": "alphabetic", "font": "Liberation Serif", "fontWeight": "bold", "fontSize": 25, "color": "black"},
"encoding": {"x": {"datum": -24.3, "type": "quantitative", "axis": null}, "y": {"datum": 0.4268, "type": "quantitative", "axis": null}}
},
{
"data": {"values": [{}]},
"mark": {"type": "text", "text": "+0.02491*x+0.1778", "align": "left", "baseline": "alphabetic", "font": "Liberation Serif", "fontWeight": "bold", "fontSize": 39, "color": "black"},
"encoding": {"x": {"datum": -22.0, "type": "quantitative", "axis": null}, "y": {"datum": 0.4057, "type": "quantitative", "axis": null}}
},
{
"data": {"values": [{}]},
"mark": {"type": "text", "text": "R", "align": "left", "baseline": "alphabetic", "font": "Liberation Serif", "fontWeight": "bold", "fontSize": 39, "color": "black"},
"encoding": {"x": {"datum": -69.87, "type": "quantitative", "axis": null}, "y": {"datum": 0.3505, "type": "quantitative", "axis": null}}
},
{
"data": {"values": [{}]},
"mark": {"type": "text", "text": "2", "align": "left", "baseline": "alphabetic", "font": "Liberation Serif", "fontWeight": "bold", "fontSize": 25, "color": "black"},
"encoding": {"x": {"datum": -64.0, "type": "quantitative", "axis": null}, "y": {"datum": 0.372, "type": "quantitative", "axis": null}}
},
{
"data": {"values": [{}]},
"mark": {"type": "text", "text": "=0.71896", "align": "left", "baseline": "alphabetic", "font": "Liberation Serif", "fontWeight": "bold", "fontSize": 39, "color": "black"},
"encoding": {"x": {"datum": -61.04, "type": "quantitative", "axis": null}, "y": {"datum": 0.3505, "type": "quantitative", "axis": null}}
},
{
"data": {"values": [{}]},
"mark": {"type": "text", "text": "RMSE=0.016551", "align": "left", "baseline": "alphabetic", "font": "Liberation Serif", "fontWeight": "bold", "fontSize": 39, "color": "black"},
"encoding": {"x": {"datum": -69.87, "type": "quantitative", "axis": null}, "y": {"datum": 0.304, "type": "quantitative", "axis": null}}
}
]
},
{
"width": 820,
"height": 497,
"resolve": {"axis": {"x": "independent", "y": "independent"}},
"layer": [
{
"data": {"name": "b7"},
"mark": {"type": "point", "filled": true, "size": 28, "opacity": 1, "strokeWidth": 0},
"encoding": {
"x": {"field": "a", "type": "quantitative", "scale": {"domain": [-80, 80], "nice": false, "zero": false},
"axis": {"orient": "bottom", "values": [-60, -40, -20, 0, 20, 40, 60], "labelExpr": "'' + datum.value", "grid": true, "gridColor": "#dedede", "gridWidth": 1, "domain": true, "domainColor": "#262626", "domainWidth": 2, "ticks": true, "tickSize": -7, "tickColor": "#262626", "tickWidth": 1.5, "labelFont": "DejaVu Sans", "labelFontSize": 23, "labelColor": "#262626", "labelBaseline": "alphabetic", "labelPadding": 47, "labelFlush": false, "labelOverlap": false, "title": "View Zenith Angle(Degrees)", "titleFont": "Liberation Serif", "titleFontSize": 39, "titleFontWeight": "bold", "titleColor": "#1a1a1a", "titleX": 408, "titleY": 85, "titleAlign": "center", "titleBaseline": "alphabetic", "titleAngle": 0}},
"y": {"field": "r", "type": "quantitative", "scale": {"domain": [0, 0.5], "nice": false, "zero": false},
"axis": {"orient": "left", "values": [0, 0.1, 0.2, 0.3, 0.4, 0.5], "format": ".1~f", "grid": true, "gridColor": "#dedede", "gridWidth": 1, "domain": true, "domainColor": "#262626", "domainWidth": 2, "ticks": true, "tickSize": -7, "tickColor": "#262626", "tickWidth": 1.5, "labelFont": "DejaVu Sans", "labelFontSize": 23, "labelColor": "#262626", "labelPadding": 19, "labelAlign": "right", "labelBaseline": "middle", "labelOffset": 3.5, "labelFlush": false, "labelOverlap": false, "title": "TOA Reflectance", "titleFont": "Liberation Serif", "titleFontSize": 39, "titleFontWeight": "bold", "titleColor": "#1a1a1a", "titleAngle": -90, "titleX": -80, "titleY": 242, "titleAlign": "center", "titleBaseline": "alphabetic"}},
"color": {"datum": "TOA Reflectance Data B7", "type": "nominal",
"scale": {"domain": ["TOA Reflectance Data B7", "Polynomial Fitted Curve B7"], "range": ["#0072BD", "#D95319"]},
"legend": {"orient": "none", "legendX": 208, "legendY": 388, "title": null, "direction": "vertical", "fillColor": "white", "strokeColor": "#333333", "padding": 8, "symbolType": "circle", "symbolSize": 16, "symbolOffset": 12.5, "labelOffset": 19, "labelFont": "Liberation Serif", "labelFontSize": 39, "labelFontWeight": "bold", "labelColor": "black", "labelLimit": 1000, "rowPadding": 7, "symbolStrokeWidth": 0}}
}
},
{
"data": {"name": "c7"},
"mark": {"type": "point", "filled": true, "size": 22, "opacity": 1, "strokeWidth": 0},
"encoding": {
"x": {"field": "a", "type": "quantitative", "axis": {"orient": "top", "values": [-60, -40, -20, 0, 20, 40, 60], "grid": false, "domain": false, "labels": false, "ticks": true, "tickSize": -7, "tickColor": "#262626", "tickWidth": 1.5, "title": null}},
"y": {"field": "r", "type": "quantitative", "axis": {"orient": "right", "values": [0.1, 0.2, 0.3, 0.4], "grid": false, "domain": false, "labels": false, "ticks": true, "tickSize": -7, "tickColor": "#262626", "tickWidth": 1.5, "title": null}},
"color": {"datum": "Polynomial Fitted Curve B7", "type": "nominal"}
}
},
{
"data": {"values": [{}]},
"mark": {"type": "text", "text": "y=0.022476*x", "align": "left", "baseline": "alphabetic", "font": "Liberation Serif", "fontWeight": "bold", "fontSize": 39, "color": "black"},
"encoding": {"x": {"datum": -69.5, "type": "quantitative", "axis": null}, "y": {"datum": 0.2178, "type": "quantitative", "axis": null}}
},
{
"data": {"values": [{}]},
"mark": {"type": "text", "text": "2", "align": "left", "baseline": "alphabetic", "font": "Liberation Serif", "fontWeight": "bold", "fontSize": 25, "color": "black"},
"encoding": {"x": {"datum": -24.4, "type": "quantitative", "axis": null}, "y": {"datum": 0.2375, "type": "quantitative", "axis": null}}
},
{
"data": {"values": [{}]},
"mark": {"type": "text", "text": "+0.0082248*x+0.40871", "align": "left", "baseline": "alphabetic", "font": "Liberation Serif", "fontWeight": "bold", "fontSize": 39, "color": "black"},
"encoding": {"x": {"datum": -21.9, "type": "quantitative", "axis": null}, "y": {"datum": 0.2178, "type": "quantitative", "axis": null}}
},
{
"data": {"values": [{}]},
"mark": {"type": "text", "text": "R", "align": "left", "baseline": "alphabetic", "font": "Liberation Serif", "fontWeight": "bold", "fontSize": 39, "color": "black"},
"encoding": {"x": {"datum": -69.5, "type": "quantitative", "axis": null}, "y": {"datum": 0.1625, "type": "quantitative", "axis": null}}
},
{
"data": {"values": [{}]},
"mark": {"type": "text", "text": "2", "align": "left", "baseline": "alphabetic", "font": "Liberation Serif", "fontWeight": "bold", "fontSize": 25, "color": "black"},
"encoding": {"x": {"datum": -63.7, "type": "quantitative", "axis": null}, "y": {"datum": 0.1815, "type": "quantitative", "axis": null}}
},
{
"data": {"values": [{}]},
"mark": {"type": "text", "text": "=0.28085", "align": "left", "baseline": "alphabetic", "font": "Liberation Serif", "fontWeight": "bold", "fontSize": 39, "color": "black"},
"encoding": {"x": {"datum": -60.7, "type": "quantitative", "axis": null}, "y": {"datum": 0.1625, "type": "quantitative", "axis": null}}
},
{
"data": {"values": [{}]},
"mark": {"type": "text", "text": "RMSE=0.016683", "align": "left", "baseline": "alphabetic", "font": "Liberation Serif", "fontWeight": "bold", "fontSize": 39, "color": "black"},
"encoding": {"x": {"datum": -69.5, "type": "quantitative", "axis": null}, "y": {"datum": 0.1156, "type": "quantitative", "axis": null}}
}
]
}
],
"config": {
"view": {"stroke": "#262626", "strokeWidth": 2},
"legend": {"strokeWidth": 1.5}
}
}
